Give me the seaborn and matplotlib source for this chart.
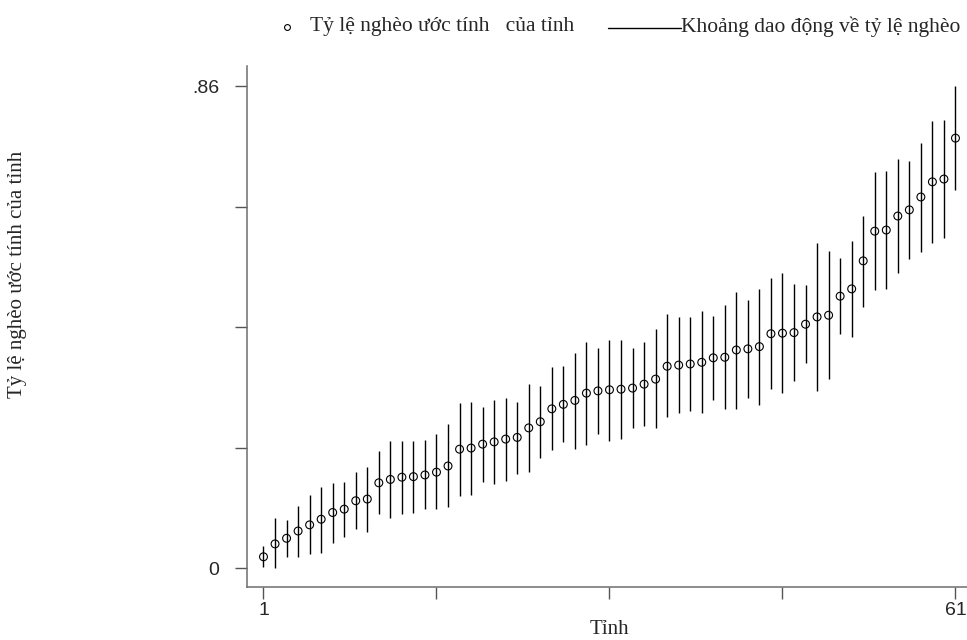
import matplotlib
matplotlib.use("Agg")
import matplotlib.pyplot as plt
from matplotlib.lines import Line2D
import pandas as pd
import seaborn as sns

# Provinces ranked by estimated poverty rate
province = list(range(1, 62))

estimate = [
    0.020, 0.043, 0.053, 0.066, 0.077, 0.087, 0.099, 0.105, 0.120, 0.123,
    0.152, 0.158, 0.162, 0.163, 0.166, 0.171, 0.182, 0.212, 0.214, 0.221,
    0.225, 0.230, 0.233, 0.250, 0.261, 0.284, 0.292, 0.299, 0.312, 0.316,
    0.318, 0.319, 0.321, 0.328, 0.337, 0.360, 0.362, 0.364, 0.367, 0.375,
    0.376, 0.389, 0.391, 0.395, 0.418, 0.419, 0.420, 0.435, 0.448, 0.451,
    0.485, 0.498, 0.548, 0.601, 0.603, 0.628, 0.639, 0.662, 0.689, 0.694,
    0.767,
]

lower = [
    0.001, 0.000, 0.020, 0.020, 0.025, 0.027, 0.044, 0.055, 0.069, 0.064,
    0.096, 0.090, 0.096, 0.099, 0.105, 0.105, 0.108, 0.129, 0.131, 0.154,
    0.150, 0.155, 0.167, 0.171, 0.197, 0.211, 0.224, 0.212, 0.220, 0.239,
    0.227, 0.231, 0.250, 0.253, 0.249, 0.269, 0.277, 0.281, 0.276, 0.300,
    0.284, 0.284, 0.303, 0.290, 0.319, 0.312, 0.334, 0.365, 0.316, 0.337,
    0.418, 0.412, 0.466, 0.496, 0.498, 0.526, 0.551, 0.563, 0.579, 0.589,
    0.674,
]

upper = [
    0.039, 0.089, 0.086, 0.111, 0.130, 0.145, 0.152, 0.153, 0.172, 0.181,
    0.208, 0.227, 0.227, 0.227, 0.228, 0.239, 0.257, 0.294, 0.296, 0.287,
    0.300, 0.303, 0.297, 0.328, 0.325, 0.358, 0.360, 0.384, 0.403, 0.392,
    0.406, 0.406, 0.392, 0.404, 0.426, 0.453, 0.448, 0.447, 0.459, 0.450,
    0.469, 0.492, 0.478, 0.498, 0.517, 0.527, 0.507, 0.505, 0.580, 0.566,
    0.553, 0.583, 0.628, 0.706, 0.708, 0.729, 0.727, 0.759, 0.798, 0.799,
    0.860,
]

x_ticks = [1, 16, 31, 46, 61]
x_ticklabels = ["1", "", "", "", "61"]
y_ticks = [0, 0.215, 0.43, 0.645, 0.86]
y_ticklabels = ["0", "", "", "", ".86"]

legend_point = "Tỷ lệ nghèo ước tính   của tỉnh"
legend_range = "Khoảng dao động về tỷ lệ nghèo"
x_title = "Tỉnh"
y_title = "Tỷ lệ nghèo ước tính của tỉnh"

df = pd.DataFrame({"tinh": province, "ty_le": estimate,
                   "thap": lower, "cao": upper})

sns.set_style("ticks")
serif = ["Liberation Serif", "DejaVu Serif"]
sans = ["Liberation Sans", "DejaVu Sans"]
plt.rcParams["font.family"] = serif

W, H = 967, 640
fig = plt.figure(figsize=(W / 100, H / 100), dpi=100)
fig.patch.set_facecolor("white")

# axes box in pixels: left 246.5, right 967, top 66, bottom 587
ax = fig.add_axes([246.5 / W, (H - 587) / H, (W - 246.5) / W, (587 - 66) / H])
ax.set_facecolor("white")

# confidence ranges
ax.vlines(df["tinh"], df["thap"], df["cao"], color="black", lw=1.0, zorder=1)

# point estimates as hollow circles
sns.scatterplot(data=df, x="tinh", y="ty_le", marker="o", s=32,
                color="black", edgecolor="black", linewidth=0.8,
                legend=False, ax=ax, zorder=2)
ax.collections[-1].set_facecolor("none")

ax.set_xlim(-0.474, 62.0)
ax.set_ylim(-0.0339, 0.8957)

ax.set_xticks(x_ticks)
ax.set_xticklabels(x_ticklabels, family=sans, fontsize=14)
ax.set_yticks(y_ticks)
ax.set_yticklabels(y_ticklabels, family=sans, fontsize=14)
ax.tick_params(axis="both", which="major", direction="out", length=8.6,
               width=1.0, color="#555555", bottom=True, left=True,
               top=False, right=False)
ax.tick_params(axis="y", pad=11)
ax.tick_params(axis="x", pad=2)

for side in ("top", "right"):
    ax.spines[side].set_visible(False)
for side in ("left", "bottom"):
    ax.spines[side].set_color("#6e6e6e")
    ax.spines[side].set_linewidth(1.1)

ax.set_xlabel("")
ax.set_ylabel("")

# axis titles
fig.text(609 / W, 1 - 630 / H, x_title, ha="center", va="center",
         fontsize=15, family=serif)
fig.text(18 / W, 1 - 274 / H, y_title, ha="center", va="center",
         rotation=90, fontsize=15, family=serif)

# legend row across the top
ly = 1 - 27 / H
fig.add_artist(Line2D([287 / W], [ly], marker="o", markersize=4.2,
                      markerfacecolor="none", markeredgecolor="black",
                      markeredgewidth=0.8, linestyle="none",
                      transform=fig.transFigure))
fig.text(310 / W, ly, legend_point, ha="left", va="center",
         fontsize=15.5, family=serif)
fig.add_artist(Line2D([608 / W, 681 / W], [ly - 1 / H, ly - 1 / H],
                      color="black", lw=1.0, transform=fig.transFigure))
fig.text(681 / W, ly, legend_range, ha="left", va="center",
         fontsize=15.5, family=serif)

fig.savefig("out.png", dpi=100, facecolor="white")
